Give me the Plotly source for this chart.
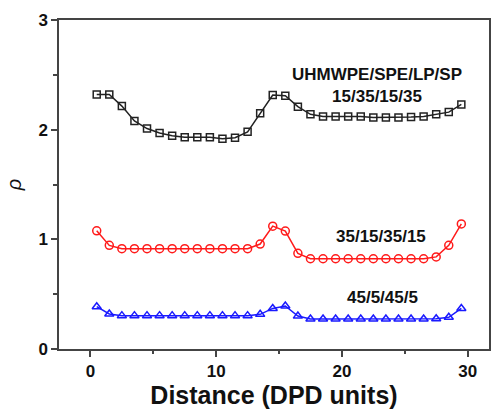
import plotly.graph_objects as go

distance = [0.5 + i for i in range(30)]

rho_15_35 = [2.32, 2.32, 2.215, 2.08, 2.01, 1.97, 1.945, 1.93, 1.93, 1.93,
             1.917, 1.926, 1.98, 2.15, 2.315, 2.31, 2.21, 2.14, 2.12, 2.12,
             2.12, 2.12, 2.11, 2.11, 2.11, 2.115, 2.12, 2.14, 2.16, 2.23]

rho_35_15 = [1.078, 0.945, 0.915, 0.915, 0.915, 0.915, 0.915, 0.915, 0.915, 0.915,
             0.915, 0.915, 0.915, 0.957, 1.12, 1.075, 0.872, 0.823, 0.823, 0.823,
             0.823, 0.823, 0.823, 0.823, 0.823, 0.823, 0.823, 0.84, 0.945, 1.14]

rho_45_5 = [0.386, 0.319, 0.304, 0.304, 0.304, 0.304, 0.304, 0.304, 0.304, 0.304,
            0.304, 0.304, 0.304, 0.316, 0.37, 0.392, 0.30, 0.273, 0.273, 0.273,
            0.273, 0.273, 0.273, 0.273, 0.273, 0.273, 0.273, 0.276, 0.289, 0.37]

labels = ["<b>UHMWPE/SPE/LP/SP</b><br><b>15/35/15/35</b>", "<b>35/15/35/15</b>", "<b>45/5/45/5</b>"]
label_x = [22.8, 23.1, 23.2]
label_y = [2.4, 1.03, 0.47]

x_ticks = [0, 10, 20, 30]
y_ticks = [0, 1, 2, 3]

fig = go.Figure()
fig.add_trace(go.Scatter(x=distance, y=rho_15_35, mode="lines+markers",
                         line=dict(color="#222222", width=1.5),
                         marker=dict(symbol="square-open", size=7, color="#222222",
                                     line=dict(width=1.5))))
fig.add_trace(go.Scatter(x=distance, y=rho_35_15, mode="lines+markers",
                         line=dict(color="#ff1a1a", width=1.5),
                         marker=dict(symbol="circle-open", size=8, color="#ff1a1a",
                                     line=dict(width=1.5))))
fig.add_trace(go.Scatter(x=distance, y=rho_45_5, mode="lines+markers",
                         line=dict(color="#1a1aff", width=1.5),
                         marker=dict(symbol="triangle-up-open", size=8, color="#1a1aff",
                                     line=dict(width=1.5))))

for t, x, y in zip(labels, label_x, label_y):
    fig.add_annotation(x=x, y=y, text=t, showarrow=False,
                       font=dict(family="Liberation Sans, Arial", size=17, color="#111111"),
                       align="center")

fig.update_layout(
    width=496, height=409,
    margin=dict(l=59, r=5, t=20, b=60),
    plot_bgcolor="white", paper_bgcolor="white",
    showlegend=False,
    font=dict(family="Liberation Sans, Arial", color="#111111"),
)
fig.update_xaxes(range=[-2.5, 31.7], tickvals=x_ticks,
                 ticktext=[f"<b>{v}</b>" for v in x_ticks],
                 ticks="outside", ticklen=6, tickwidth=1.5, tickcolor="#444444",
                 minor=dict(tickvals=[5, 15, 25], ticks="outside", ticklen=3,
                            tickwidth=1.5, tickcolor="#444444"),
                 showline=True, linecolor="#444444", linewidth=1.5, mirror=True,
                 showgrid=False, zeroline=False,
                 tickfont=dict(size=17, family="Liberation Sans, Arial"),
                 title=dict(text="<b>Distance (DPD units)</b>", standoff=5,
                            font=dict(size=25, family="Liberation Sans, Arial")))
fig.update_yaxes(range=[0, 3], tickvals=y_ticks,
                 ticktext=[f"<b>{v}</b>" for v in y_ticks],
                 ticks="outside", ticklen=6, tickwidth=1.5, tickcolor="#444444",
                 minor=dict(tickvals=[0.5, 1.5, 2.5], ticks="outside", ticklen=4,
                            tickwidth=1.5, tickcolor="#444444"),
                 showline=True, linecolor="#444444", linewidth=1.5, mirror=True,
                 showgrid=False, zeroline=False,
                 tickfont=dict(size=17, family="Liberation Sans, Arial"),
                 title=dict(text="<i>ρ</i>", standoff=11,
                            font=dict(size=20, family="Liberation Sans, Arial")))

fig.write_html("out.html")
